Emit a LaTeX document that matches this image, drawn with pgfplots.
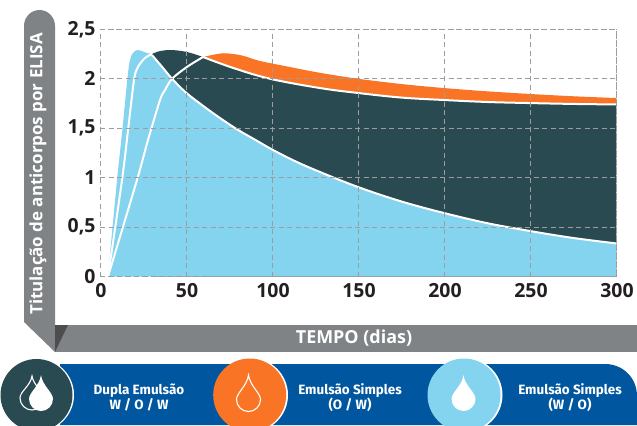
\documentclass[border=0pt]{standalone}
\usepackage{fontspec}
\setmainfont{Open Sans}
\newfontfamily\legfont{Fira Sans}
\usepackage{pgfplots}
\pgfplotsset{compat=1.18}
\definecolor{lblue}{HTML}{84D3EF}
\definecolor{dteal}{HTML}{2A4A52}
\definecolor{orng}{HTML}{F97424}
\definecolor{bblue}{HTML}{00579F}
\definecolor{bar}{HTML}{7F8385}
\definecolor{bard}{HTML}{4D4D4F}
\definecolor{gridc}{HTML}{9D9D9D}
\definecolor{ink}{HTML}{231F20}
\newcommand{\drop}[5]{%
 \pgfmathsetmacro{\cy}{#4-#3}
 \path[#5] (#1,#2) .. controls ({#1+0.12*#3},{#2+0.45*(\cy-#2)}) and ({#1+#3},{\cy-0.55*#3}) .. ({#1+#3},\cy)
  .. controls ({#1+#3},{\cy+0.55*#3}) and ({#1+0.55*#3},#4) .. (#1,#4)
  .. controls ({#1-0.55*#3},#4) and ({#1-#3},{\cy+0.55*#3}) .. ({#1-#3},\cy)
  .. controls ({#1-#3},{\cy-0.55*#3}) and ({#1-0.12*#3},{#2+0.45*(\cy-#2)}) .. cycle;}
\begin{document}
\begin{tikzpicture}[x=1bp,y=-1bp]
\useasboundingbox (0,0) rectangle (637,425);
% side bars
\fill[bar] (24,322) -- (24,26) .. controls (24,17) and (31,10) .. (39.5,10) .. controls (48,10) and (55,17) .. (55,26) -- (55,352) -- cycle;
\fill[bar] (55,325) rectangle (637,352);
\fill[bard] (55,325) -- (68,325) -- (55,352) -- cycle;
\node[text=white,rotate=90,font=\fontsize{17}{17}\selectfont\bfseries] at (38,174) {Titulação de anticorpos por ELISA};
\node[text=white,font=\fontsize{18}{18}\selectfont\bfseries] at (354,338) {TEMPO (dias)};
% legend
\begin{scope}
\clip (0,0) rectangle (637,425);
\fill[bblue] (60,364) -- (605,364) .. controls (623,364) and (637,378) .. (637,396) -- (637,425) -- (60,425) -- cycle;
\fill[white] (37.5,395) circle[radius=36.5bp];
\fill[dteal] (36.5,395) circle[radius=36bp];
\fill[white] (251,395) circle[radius=37bp];
\fill[orng] (249.7,395) circle[radius=36.5bp];
\fill[white] (465.5,395) circle[radius=37bp];
\fill[lblue] (464,395) circle[radius=36.5bp];
\end{scope}
\drop{32}{376}{12}{410}{draw=white,line width=1.1bp}
\drop{41}{375}{12}{411}{fill=white}
\drop{248.5}{375}{12}{411.5}{draw=white,line width=1.1bp}
\drop{463.5}{375}{12}{411}{fill=white}
\begin{scope}[text=white,font=\legfont\fontsize{13.5}{15.5}\selectfont\bfseries,align=center]
\node at (139,397.5) {Dupla Emulsão\\W / O / W};
\node at (350,397.5) {Emulsão Simples\\(O / W)};
\node at (570,397.5) {Emulsão Simples\\(W / O)};
\end{scope}
\begin{axis}[
 at={(100bp,-276.5bp)},anchor=south west,
 scale only axis,width=516bp,height=247.2bp,
 xmin=0,xmax=300,ymin=0,ymax=2.5,
 axis on top,
 xtick={0,50,100,150,200,250,300},
 ytick={0,0.5,1,1.5,2,2.5},
 xticklabels={0,50,100,150,200,250,300},
 yticklabels={{0\hspace{6bp}},{0,5},{1\hspace{6bp}},{1,5},{2\hspace{6bp}},{2,5}},
 major tick length=0pt,
 grid=major,
 grid style={gridc,line width=1bp,dash pattern=on 5bp off 3.5bp},
 axis line style={gridc,line width=1bp,dash pattern=on 5bp off 3.5bp},
 tick label style={text=ink,font=\fontsize{19.5}{19.5}\selectfont\bfseries},
 yticklabel style={xshift=-1bp},
 xticklabel style={yshift=-3bp,xshift=1bp},
 clip=true,
]
\addplot[fill=orng,draw=none,smooth,tension=0.6] coordinates {(59.9,2.22)(68,2.25)(73.8,2.257)(83,2.233)(93,2.18)(110,2.12)(127.9,2.06)(150,2.0)(175,1.947)(200,1.906)(225,1.873)(250,1.846)(275,1.823)(300,1.805)} \closedcycle;
\addplot[fill=dteal,draw=none,smooth,tension=0.6] coordinates {(30.2,2.25)(34.9,2.28)(41.9,2.29)(50.6,2.27)(59.9,2.22)(77.3,2.11)(98.8,2.0)(127.9,1.906)(150,1.856)(175,1.81)(200,1.785)(225,1.765)(250,1.754)(276,1.745)(300,1.74)} \closedcycle;
\addplot[fill=lblue,draw=none,smooth,tension=0.6] coordinates {(4.65,0.005)(9.9,0.976)(12.8,1.45)(16.3,2.06)(18,2.22)(19.8,2.27)(22.1,2.29)(27.3,2.26)(30.2,2.24)(36.6,2.11)(41.9,2.0)(50,1.86)(60,1.725)(70,1.6)(80,1.485)(90,1.385)(100,1.285)(113,1.17)(127.9,1.057)(150,0.905)(175,0.76)(200,0.642)(225,0.54)(250,0.46)(275,0.39)(300,0.335)} \closedcycle;
% white lines
\addplot[white,line width=2bp,smooth,tension=0.6] coordinates {(30.2,2.24)(36.6,2.11)(41.9,2.0)(50,1.86)(60,1.725)(70,1.6)(80,1.485)(90,1.385)(100,1.285)(113,1.17)(127.9,1.057)(150,0.905)(175,0.76)(200,0.642)(225,0.54)(250,0.46)(275,0.39)(300,0.335)};
\addplot[white,line width=2bp,smooth,tension=0.5] coordinates {(4.65,0)(12.8,0.976)(16.3,1.48)(19.8,1.99)(22.1,2.12)(26.2,2.21)(30.2,2.25)};
\addplot[white,line width=2bp,smooth,tension=0.5] coordinates {(4.65,0)(21.5,0.976)(27.9,1.38)(34.9,1.785)(37.8,1.886)(41.9,2.0)(50.6,2.12)(59.9,2.22)};
\addplot[white,line width=2bp,smooth,tension=0.6] coordinates {(59.9,2.22)(77.3,2.11)(98.8,2.0)(127.9,1.906)(150,1.856)(175,1.81)(200,1.785)(225,1.765)(250,1.754)(276,1.745)(300,1.74)};
\end{axis}
\end{tikzpicture}
\end{document}
